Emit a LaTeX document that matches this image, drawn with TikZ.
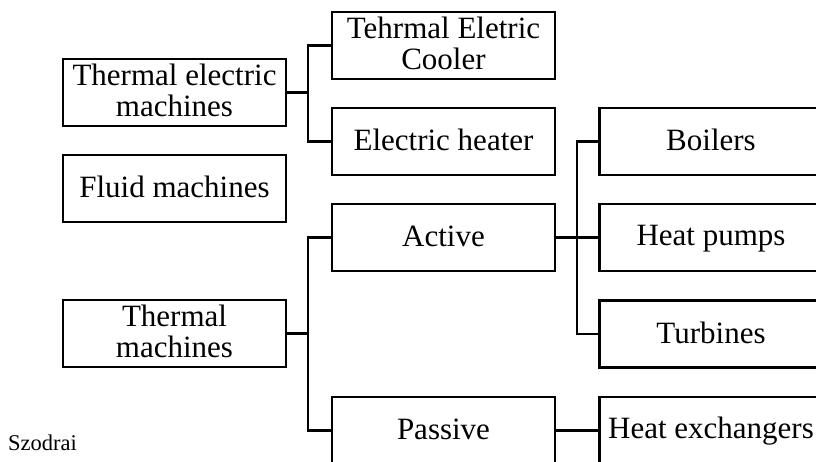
\documentclass[tikz,border=0pt]{standalone}
\usepackage{fontspec}
\setmainfont{Liberation Serif}
\newcommand{\boxstrut}{\rule[-4pt]{0pt}{26pt}}
\begin{document}
\begin{tikzpicture}[x=1pt,y=-1pt,
  box/.style={draw, line width=2.4pt, rectangle, minimum width=223pt, minimum height=67pt,
    inner sep=0pt, align=center, font=\fontsize{31}{31}\selectfont,
    execute at begin node=\boxstrut, execute at end node=\boxstrut},
  link/.style={line width=2.4pt},
  note/.style={inner sep=0pt, font=\fontsize{22.5}{25}\selectfont}]
\clip (0,0) rectangle (816,462);
\fill[white] (0,0) rectangle (816,462);
% left column
\node[box] (tem) at (174.5,92.5) {Thermal electric\\machines};
\node[box] (fluid) at (174.5,188.5) {Fluid machines};
\node[box] (tm) at (174.5,333.5) {Thermal\\machines};
% middle column
\node[box] (cool) at (443.5,45.5) {Tehrmal Eletric\\Cooler};
\node[box] (heat) at (443.5,141.5) {Electric heater};
\node[box] (act) at (443.5,237.5) {Active};
\node[box] (pas) at (443.5,430.5) {Passive};
% right column
\node[box] (boil) at (711,141.5) {Boilers};
\node[box] (pump) at (711,237.5) {Heat pumps};
\node[box] (turb) at (711,334) {Turbines};
\node[box] (hx) at (711,430.5) {Heat exchangers};
% junctions
\coordinate (j1) at (308,92.5);
\coordinate (j2) at (577,237.5);
\coordinate (j3) at (308,333.5);
% connectors
\draw[link] (tem.east) -- (j1);
\draw[link] (cool.west) -| (j1) |- (heat.west);
\draw[link] (act.east) -- (pump.west);
\draw[link] (boil.west) -| (j2) |- (turb.west);
\draw[link] (tm.east) -- (j3);
\draw[link] (act.west) -| (j3) |- (pas.west);
\draw[link] (pas.east) -- (hx.west);
% credit
\node[note, anchor=base west] (credit) at (8,450) {Szodrai};
\end{tikzpicture}
\end{document}
